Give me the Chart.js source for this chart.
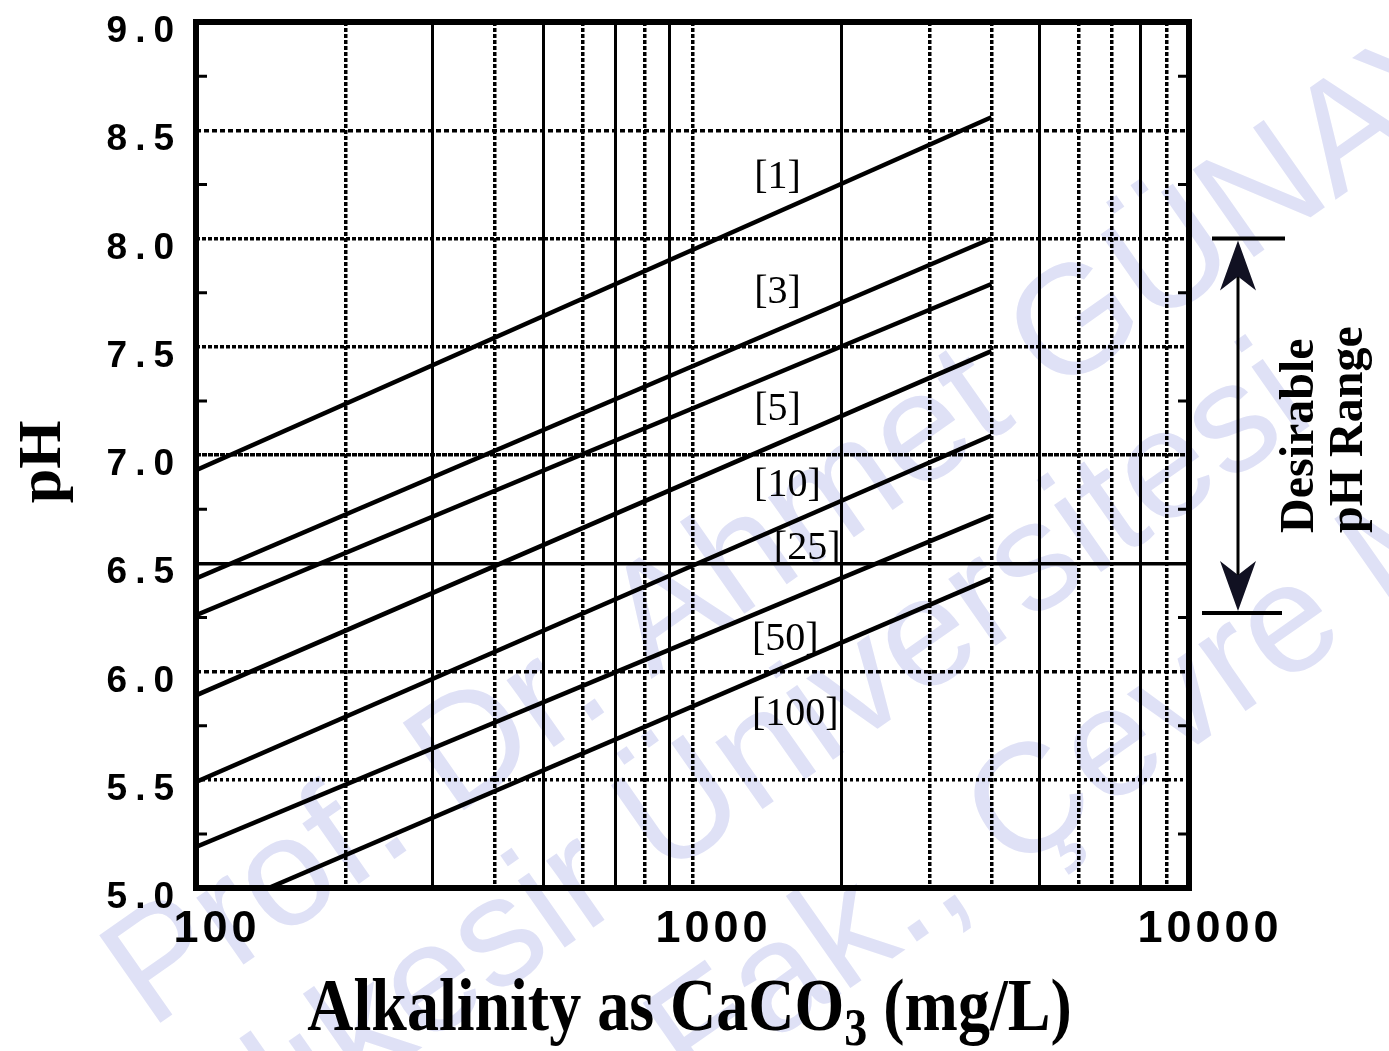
<!DOCTYPE html>
<html>
<head>
<meta charset="utf-8">
<title>pH vs Alkalinity</title>
<script src="https://cdn.jsdelivr.net/npm/chart.js@4.4.1/dist/chart.umd.min.js"></script>
<style>
    html, body { margin: 0; padding: 0; background: #fff; }
    canvas { display: block; }
</style>
</head>
<body>
<canvas id="__chart_ph" width="1389" height="1051"></canvas>
<script>

/**
 * chart data: pH against alkalinity, one line per CO2 level (mg/L)
 */

const curveLabels = [ '[1]', '[3]', '[5]', '[10]', '[25]', '[50]', '[100]' ];
const alkStart    = [ 100, 100, 100, 100, 100, 100, 140 ];
const phStart     = [ 6.93, 6.43, 6.26, 5.89, 5.49, 5.19, 5.00 ];
const alkEnd      = [ 4000, 4000, 4000, 4000, 4000, 4000, 4000 ];
const phEnd       = [ 8.56, 8.00, 7.79, 7.48, 7.09, 6.72, 6.43 ];

const xGridValues  = [ 100, 200, 300, 400, 500, 600, 700, 800, 900,
                       1000, 2000, 3000, 4000, 5000, 6000, 7000, 8000, 9000, 10000 ];
const xTickValues  = [ 100, 1000, 10000 ];
const xTickLabels  = [ '100', '1000', '10000' ];
const yTickValues  = [ 5.0, 5.5, 6.0, 6.5, 7.0, 7.5, 8.0, 8.5, 9.0 ];
const yTickLabels  = [ '5.0', '5.5', '6.0', '6.5', '7.0', '7.5', '8.0', '8.5', '9.0' ];
const yMinorValues = [ 5.25, 5.75, 6.25, 6.75, 7.25, 7.75, 8.25, 8.75 ];

const desirableRange = [ 6.27, 8.0 ];

/**
 * where each curve's name sits (alkalinity, pH)
 */

const curveLabelAlk = [ 1483, 1483, 1483, 1553, 1702, 1538, 1611 ];
const curveLabelPh  = [ 8.28, 7.75, 7.21, 6.86, 6.57, 6.15, 5.80 ];

/**
 * grid line looks
 */

const xSolid = [ 300, 500, 700, 900, 2000, 5000, 8000 ];
const yDash = {
    '5.5': [ 3, 3 ],
    '6.0': [ 5, 3 ],
    '6.5': [],
    '7.0': [ 5, 1 ],
    '7.5': [ 4, 2 ],
    '8.0': [ 4, 2 ],
    '8.5': [ 5, 3 ]
};

const watermark = [
    { text: 'Prof. Dr. Ahmet GÜNAY', x: 150, y: 1030 },
    { text: 'Balıkesir Üniversitesi', x: 140, y: 1245 },
    { text: 'Müh. Fak., Çevre Müh. Böl.', x: 376, y: 1320 }
];

function spacedText( ctx, text, x, y, gap, align ) {

    let chars = text.split( '' );
    let widths = chars.map( c => ctx.measureText( c ).width );
    let total = widths.reduce( ( a, b ) => a + b, 0 ) + gap * ( chars.length - 1 );
    let cx = align === 'right' ? x - total : ( align === 'center' ? x - total / 2 : x );

    ctx.textAlign = 'left';

    chars.forEach( ( c, i ) => {
        ctx.fillText( c, cx, y );
        cx += widths[ i ] + gap;
    } );

}

function arrowHead( ctx, x, y, dir ) {

    ctx.beginPath();
    ctx.moveTo( x, y );
    ctx.lineTo( x + 18, y + dir * 50 );
    ctx.lineTo( x, y + dir * 36 );
    ctx.lineTo( x - 18, y + dir * 50 );
    ctx.closePath();
    ctx.fill();

}

const phDecor = {
    id: 'phDecor',

    beforeDraw( chart ) {

        let ctx = chart.ctx;

        ctx.save();
        ctx.fillStyle = '#dfe1f6';
        ctx.font = '155px "Liberation Sans", Arial, sans-serif';
        ctx.textAlign = 'left';
        ctx.textBaseline = 'alphabetic';

        watermark.forEach( w => {
            ctx.save();
            ctx.translate( w.x, w.y );
            ctx.rotate( -35 * Math.PI / 180 );
            ctx.fillText( w.text, 0, 0 );
            ctx.restore();
        } );

        ctx.restore();

    },

    afterDraw( chart ) {

        let ctx = chart.ctx;
        let area = chart.chartArea;
        let xs = chart.scales.x;
        let ys = chart.scales.y;

        ctx.save();

        /**
         * frame and minor ticks
         */

        ctx.strokeStyle = '#000';
        ctx.lineWidth = 6;
        ctx.strokeRect( area.left, area.top, area.right - area.left, area.bottom - area.top );

        ctx.lineWidth = 3;
        yMinorValues.forEach( v => {
            let py = ys.getPixelForValue( v );
            ctx.beginPath();
            ctx.moveTo( area.left, py );
            ctx.lineTo( area.left + 11, py );
            ctx.moveTo( area.right - 11, py );
            ctx.lineTo( area.right, py );
            ctx.stroke();
        } );

        /**
         * tick labels
         */

        ctx.fillStyle = '#000';
        ctx.textBaseline = 'middle';

        ctx.font = 'bold 37px "Liberation Sans", Arial, sans-serif';
        yTickValues.forEach( ( v, i ) => {
            spacedText( ctx, yTickLabels[ i ], area.left - 22, ys.getPixelForValue( v ) + 10, 8, 'right' );
        } );

        ctx.font = 'bold 45px "Liberation Sans", Arial, sans-serif';
        xTickValues.forEach( ( v, i ) => {
            spacedText( ctx, xTickLabels[ i ], xs.getPixelForValue( v ) + 19, area.bottom + 42, 4, 'center' );
        } );

        /**
         * axis titles
         */

        ctx.textBaseline = 'alphabetic';

        let titleFont = 'bold 64px "Liberation Serif", "Times New Roman", serif';
        let subFont = 'bold 46px "Liberation Serif", "Times New Roman", serif';
        let partA = 'Alkalinity as CaCO';
        let partSub = '3';
        let partB = ' (mg/L)';

        ctx.font = titleFont;
        let wA = ctx.measureText( partA ).width;
        let wB = ctx.measureText( partB ).width;
        ctx.font = subFont;
        let wS = ctx.measureText( partSub ).width;

        let tx = ( area.left + area.right ) / 2 - ( wA + wS + wB ) / 2 - 3;

        ctx.save();
        ctx.translate( 0, 1030 );
        ctx.scale( 1, 1.15 );
        ctx.textAlign = 'left';
        ctx.font = titleFont;
        ctx.fillText( partA, tx, 0 );
        ctx.fillText( partB, tx + wA + wS, 0 );
        ctx.font = subFont;
        ctx.fillText( partSub, tx + wA, 13 );
        ctx.restore();

        ctx.save();
        ctx.translate( 60, ( area.top + area.bottom ) / 2 + 7 );
        ctx.rotate( -Math.PI / 2 );
        ctx.textAlign = 'center';
        ctx.font = 'bold 62px "Liberation Serif", "Times New Roman", serif';
        ctx.fillText( 'pH', 0, 0 );
        ctx.restore();

        /**
         * curve names
         */

        ctx.font = '40px "Liberation Serif", "Times New Roman", serif';
        ctx.textAlign = 'center';
        ctx.textBaseline = 'middle';

        curveLabels.forEach( ( label, i ) => {
            ctx.fillText( label, xs.getPixelForValue( curveLabelAlk[ i ] ), ys.getPixelForValue( curveLabelPh[ i ] ) );
        } );

        /**
         * desirable pH range marker
         */

        let yTop = ys.getPixelForValue( desirableRange[ 1 ] );
        let yBot = ys.getPixelForValue( desirableRange[ 0 ] );
        let ax = area.right + 49;

        ctx.strokeStyle = '#000';
        ctx.fillStyle = '#111122';
        ctx.lineWidth = 4;
        ctx.beginPath();
        ctx.moveTo( ax - 26, yTop );
        ctx.lineTo( ax + 47, yTop );
        ctx.moveTo( ax - 36, yBot );
        ctx.lineTo( ax + 44, yBot );
        ctx.stroke();

        ctx.lineWidth = 3;
        ctx.beginPath();
        ctx.moveTo( ax, yTop + 36 );
        ctx.lineTo( ax, yBot - 36 );
        ctx.stroke();

        arrowHead( ctx, ax, yTop + 2, 1 );
        arrowHead( ctx, ax, yBot - 2, -1 );

        ctx.fillStyle = '#000';
        ctx.textAlign = 'left';
        ctx.textBaseline = 'alphabetic';
        ctx.font = 'bold 48px "Liberation Serif", "Times New Roman", serif';

        ctx.save();
        ctx.translate( 1313, 533 );
        ctx.rotate( -Math.PI / 2 );
        ctx.fillText( 'Desirable', 0, 0 );
        ctx.restore();

        ctx.save();
        ctx.translate( 1362, 533 );
        ctx.rotate( -Math.PI / 2 );
        ctx.fillText( 'pH Range', 0, 0 );
        ctx.restore();

        ctx.restore();

    }
};

document.addEventListener( 'DOMContentLoaded', function () {

    let ctx = document.getElementById( '__chart_ph' ).getContext( '2d' );

    new Chart( ctx, {
        type: 'scatter',
        data: {
            datasets: curveLabels.map( ( label, i ) => ( {
                label: label,
                data: [
                    { x: alkStart[ i ], y: phStart[ i ] },
                    { x: alkEnd[ i ], y: phEnd[ i ] }
                ],
                showLine: true,
                borderColor: '#000',
                borderWidth: 4.5,
                pointRadius: 0,
                pointHoverRadius: 0,
                tension: 0
            } ) )
        },
        options: {
            responsive: false,
            animation: false,
            events: [],
            layout: {
                padding: { left: 196, top: 22, right: 200, bottom: 163 }
            },
            plugins: {
                legend: { display: false },
                tooltip: { enabled: false }
            },
            scales: {
                x: {
                    type: 'logarithmic',
                    min: 100,
                    max: 10000,
                    afterBuildTicks: ( scale ) => {
                        scale.ticks = xGridValues.map( v => ( { value: v } ) );
                    },
                    ticks: { display: false },
                    border: {
                        display: false,
                        dash: ( c ) => c.tick && xSolid.includes( c.tick.value ) ? [] : [ 4, 2 ]
                    },
                    grid: {
                        drawTicks: false,
                        color: ( c ) => c.tick && ( c.tick.value === 100 || c.tick.value === 10000 ) ? 'rgba( 0 0 0 / 0 )' : '#000',
                        lineWidth: ( c ) => c.tick && xSolid.includes( c.tick.value ) ? 3 : 3.5
                    }
                },
                y: {
                    min: 5,
                    max: 9,
                    afterBuildTicks: ( scale ) => {
                        scale.ticks = yTickValues.map( v => ( { value: v } ) );
                    },
                    ticks: { display: false },
                    border: {
                        display: false,
                        dash: ( c ) => c.tick && yDash[ c.tick.value.toFixed( 1 ) ] ? yDash[ c.tick.value.toFixed( 1 ) ] : [ 4, 2 ]
                    },
                    grid: {
                        drawTicks: false,
                        color: ( c ) => c.tick && ( c.tick.value === 5 || c.tick.value === 9 ) ? 'rgba( 0 0 0 / 0 )' : '#000',
                        lineWidth: 3.5
                    }
                }
            }
        },
        plugins: [ phDecor ]
    } );

} );

</script>
</body>
</html>
